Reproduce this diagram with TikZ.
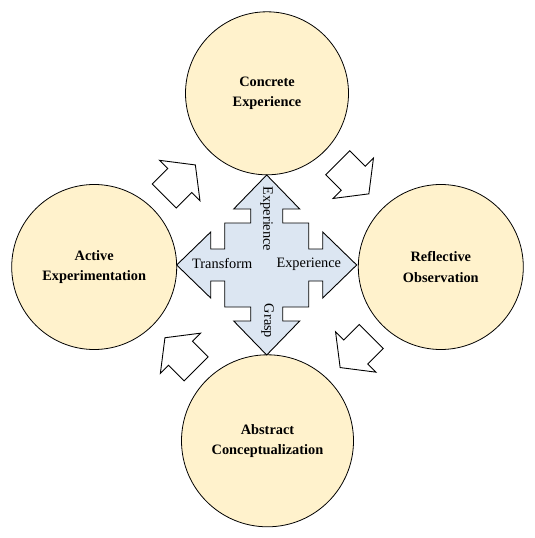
\documentclass[tikz,border=0pt]{standalone}
\usepackage{fontspec}
\setmainfont{Liberation Serif}
\definecolor{circfill}{HTML}{FFF2CC}
\definecolor{crossfill}{HTML}{DCE6F2}
\tikzset{
  stage/.style={circle, draw=black, line width=0.8pt, fill=circfill, inner sep=0pt,
    align=center, font=\fontsize{14.4}{20.5}\selectfont\bfseries},
  crosslabel/.style={inner sep=0pt, font=\fontsize{14.4}{17}\selectfont},
  cyclearrow/.style={draw=black, line width=0.9pt, fill=white, line join=miter},
  crossshape/.style={draw=black, line width=0.9pt, fill=crossfill, line join=miter}
}
\begin{document}
\begin{tikzpicture}[x=1bp,y=-1bp]
\useasboundingbox (0,0) rectangle (535,538);

% four stages
\node[stage, minimum size=163bp] (ce) at (267,93.3) {Concrete\\Experience};
\node[stage, minimum size=165bp] (ae) at (94.2,267) {Active\\Experimentation};
\node[stage, minimum size=165bp] (ro) at (440.8,267) {Reflective\\Observation};
\node[stage, minimum size=172bp] (ac) at (267.5,440.8) {Abstract\\Conceptualization};

% central four-way arrow
\coordinate (mid) at (266.7,265);
\draw[crossshape, shift={(mid)}]
  (0,-90) -- (33,-56) -- (16,-56) -- (16,-42) -- (42,-42) -- (42,-16) -- (56,-16) -- (56,-33)
  -- (90,0) -- (56,33) -- (56,16) -- (42,16) -- (42,42) -- (16,42) -- (16,56) -- (33,56)
  -- (0,90) -- (-33,56) -- (-16,56) -- (-16,42) -- (-42,42) -- (-42,16) -- (-56,16) -- (-56,33)
  -- (-90,0) -- (-56,-33) -- (-56,-16) -- (-42,-16) -- (-42,-42) -- (-16,-42) -- (-16,-56) -- (-33,-56)
  -- cycle;

% labels on the cross
\node[crosslabel, anchor=base] (tr) at (222.2,268.3) {Transform};
\node[crosslabel, anchor=base] (exh) at (308.8,267.3) {Experience};
\node[crosslabel, rotate=-90] (exv) at (266.7,219) {Experience};
\node[crosslabel, rotate=-90] (gr) at (267.5,321) {Grasp};

% cycle arrows
\coordinate (aul) at (179.8,180.5);
\coordinate (aur) at (353.3,178.3);
\coordinate (alr) at (355.7,352);
\coordinate (all) at (180.5,353.3);
\foreach \c/\a in {aul/45, aur/-45, alr/-135, all/135}{
  \draw[cyclearrow, shift={(\c)}, rotate=\a]
    (-22,-17) -- (0,-17) -- (0,-28.5) -- (22,0) -- (0,28.5) -- (0,17) -- (-22,17) -- cycle;
}
\end{tikzpicture}
\end{document}
